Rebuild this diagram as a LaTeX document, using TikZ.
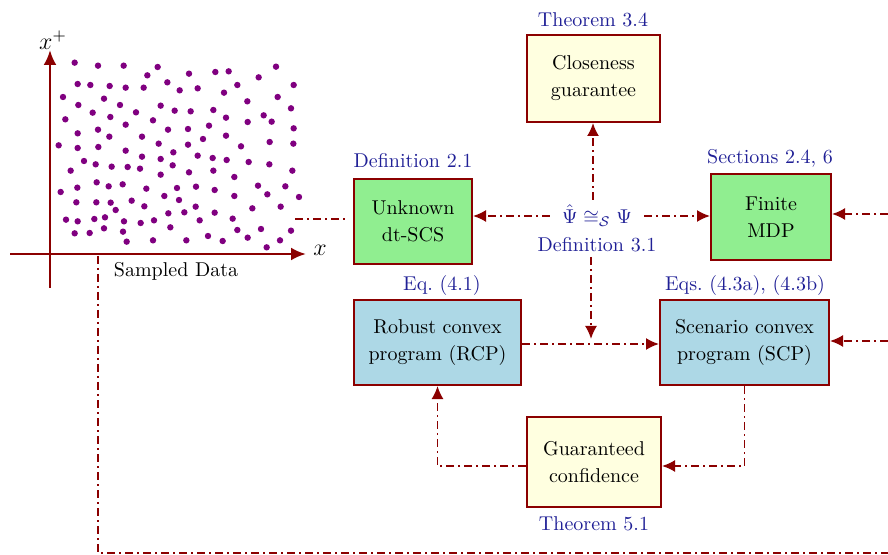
\documentclass[tikz,border=0pt]{standalone}
\usetikzlibrary{arrows.meta}
\definecolor{bord}{RGB}{139,0,0}
\definecolor{lblue}{RGB}{32,32,150}
\definecolor{boxgreen}{RGB}{144,238,144}
\definecolor{boxblue}{RGB}{173,216,230}
\definecolor{boxyellow}{RGB}{255,255,224}
\definecolor{dotc}{RGB}{128,0,128}
\begin{document}
\begin{tikzpicture}[x=0.5pt,y=-0.5pt,
  box/.style={draw=bord,line width=1pt,align=center,inner sep=2pt},
  gbox/.style={box,fill=boxgreen},
  bbox/.style={box,fill=boxblue},
  ybox/.style={box,fill=boxyellow},
  lab/.style={text=lblue},
  conn/.style={draw=bord,line width=0.9pt,dash pattern=on 4pt off 2pt on 1pt off 2pt},
  arr/.style={conn,-{Latex[length=6.5pt,width=6pt]}},
  axis/.style={draw=bord,line width=1.3pt},
  axarr/.style={axis,-{Latex[length=7.5pt,width=6.5pt]}},
  dot/.style={circle,fill=dotc,inner sep=0pt,minimum size=3.2pt}]
\useasboundingbox (0,0) rectangle (888,555);

% scatter dots
\foreach \a/\b in {224/128,294/137,371/137,473/141,442/166,567/161,646/156,686/154,776/172,828/140,881/195,
233/192,271/195,329/198,377/203,431/203,502/187,539/211,593/205,672/218,712/195,
189/231,235/255,312/236,360/255,278/278,331/291,408/277,482/257,524/272,572/274,640/270,742/244,833/231,873/265,
196/298,377/314,459/301,678/293,791/286,815/305,743/306,627/317,564/327,504/329,
233/340,294/329,328/350,426/350,609/357,678/347,881/325,
176/376,233/384,295/381,377/392,476/371,564/374,723/379,809/366,880/371,
252/423,287/433,335/440,383/441,420/446,426/410,482/417,520/397,518/436,593/407,638/414,680/420,746/426,808/433,
212/452,482/464,567/457,640/452,703/471,877/452,
182/516,232/503,290/487,326/499,368/493,439/506,493/528,531/504,588/500,644/510,703/528,774/497,802/523,856/499,897/531,
229/547,289/547,332/548,347/570,395/542,433/559,537/540,587/560,553/577,505/580,644/578,757/565,842/560,
198/599,233/604,283/597,315/592,372/604,422/609,462/601,599/601,698/596,511/622,
224/640,269/639,312/625,369/635,380/665,459/661,559/661,624/648,668/663,712/630,743/653,783/627,840/661,873/632,800/682}
  \node[dot] at ({\a/3},{\b/3+20}) {};

% axes
\coordinate (xs) at (10,254);
\coordinate (xe) at (306,254);
\coordinate (ys) at (50,288);
\coordinate (ye) at (50,50);
\draw[axarr] (xs) -- (xe);
\draw[axarr] (ys) -- (ye);
\node[font=\large] (xl) at (320,250) {$x$};
\node[font=\large] (xpl) at (53,40) {$x^{+}$};
\node (sd) at (176,271) {Sampled Data};

% boxes
\node[ybox,minimum width=66.5pt,minimum height=43.5pt] (clos) at (593.5,78.5) {Closeness\\[1.5pt]guarantee};
\node[lab] (t34) at (593,20) {Theorem 3.4};
\node[gbox,minimum width=59pt,minimum height=42.5pt] (unk) at (413,221.5) {Unknown\\[1.5pt]dt-SCS};
\node[lab] (d21) at (413,161) {Definition 2.1};
\node[gbox,minimum width=60pt,minimum height=43pt] (mdp) at (771,217) {Finite\\[1.5pt]MDP};
\node[lab] (s24) at (770,158) {Sections 2.4, 6};
\node[bbox,minimum width=83.5pt,minimum height=42.5pt] (rcp) at (437.5,342.5) {Robust convex\\[1.5pt]program (RCP)};
\node[lab] (e41) at (442,286) {Eq.\ (4.1)};
\node[bbox,minimum width=84.5pt,minimum height=42.5pt] (scp) at (744.5,342.5) {Scenario convex\\[1.5pt]program (SCP)};
\node[lab] (e43) at (745,286) {Eqs.\ (4.3a), (4.3b)};
\node[ybox,minimum width=67pt,minimum height=45pt] (guar) at (594,462) {Guaranteed\\[1.5pt]confidence};
\node[lab] (t51) at (594,524) {Theorem 5.1};

% center label
\node[lab,inner sep=0pt] (psi) at (597,216) {$\hat{\Psi}\cong_{\mathcal{S}}\Psi$};
\node[lab,inner sep=0pt] (d31) at (597,245) {Definition 3.1};

% connectors
\coordinate (sc) at (295,219);
\draw[conn,shorten >=2.5pt] (sc) -- (unk.west |- sc);
\draw[arr,shorten <=6pt] (psi.west) -- (unk.east |- psi.west);
\draw[arr,shorten <=6pt] (psi.east) -- (mdp.west |- psi.east);
\coordinate (vt) at (593,200);
\draw[arr] (vt) -- (clos.south -| vt);
\coordinate (vb) at (591,257);
\coordinate (vm) at (591,339);
\draw[arr] (vb) -- (vm);
\draw[arr] (rcp.east |- 0,344) -- (scp.west |- 0,344);
\coordinate (g1) at (594,466);
\draw[arr] (scp.south) |- (guar.east |- g1);
\draw[arr] (guar.west |- g1) -| (rcp.south);
\coordinate (r1) at (888,214);
\coordinate (r2) at (888,341);
\draw[arr] (r1) -- (mdp.east |- r1);
\draw[arr] (r2) -- (scp.east |- r2);
\coordinate (xa) at (98,256);
\coordinate (br) at (888,553);
\draw[conn] (xa) |- (br);
\end{tikzpicture}
\end{document}
